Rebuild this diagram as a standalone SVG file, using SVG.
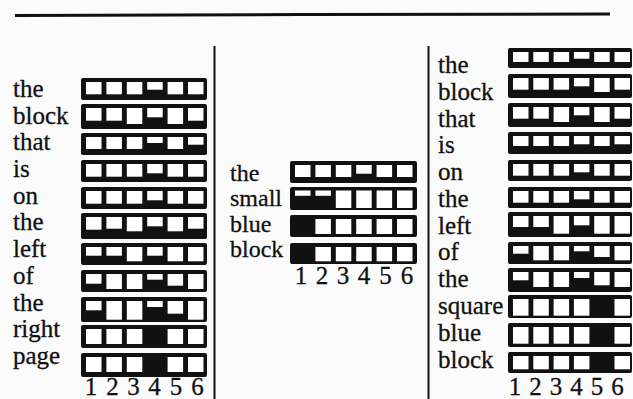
<svg xmlns="http://www.w3.org/2000/svg" width="633" height="399" viewBox="0 0 633 399">
<style>
.bx{fill:#111}
.c{fill:#fff}
.w{font-family:"Liberation Serif","Times New Roman",serif;font-size:25px;fill:#111;stroke:#111;stroke-width:0.3}
.m{font-size:24px}
.d{font-family:"Liberation Serif","Times New Roman",serif;font-size:25px;fill:#111;stroke:#111;stroke-width:0.3;text-anchor:middle}
.rule{stroke:#111;fill:none}
</style>
<rect width="633" height="399" fill="#fbfbfb"/>
<g id="rules">
<path class="rule" d="M15,15.5 L300,14.5 L610,14" stroke-width="3"/>
<line class="rule" x1="214.5" y1="46" x2="214.5" y2="399" stroke-width="2"/>
<line class="rule" x1="428.5" y1="46" x2="428.5" y2="399" stroke-width="2"/>
</g>
<g id="left-panel">
<g id="L1"><text class="w" x="13" y="97">the</text><rect class="bx" x="81" y="78" width="126" height="22" rx="2"/>
<rect class="c" x="86" y="82" width="15.5" height="12.3"/><rect class="c" x="106.4" y="82" width="15.5" height="12.3"/><rect class="c" x="126.8" y="82" width="15.5" height="12.3"/><rect class="c" x="147.2" y="82" width="15.5" height="7.7"/><rect class="c" x="167.6" y="82" width="15.5" height="12.3"/><rect class="c" x="188" y="82" width="15.5" height="12.3"/></g>
<g id="L2"><text class="w" x="13" y="124">block</text><rect class="bx" x="81" y="104" width="126" height="25" rx="2"/>
<rect class="c" x="86" y="108" width="15.5" height="12.7"/><rect class="c" x="106.4" y="108" width="15.5" height="12.7"/><rect class="c" x="126.8" y="108" width="15.5" height="16"/><rect class="c" x="147.2" y="108" width="15.5" height="9.3"/><rect class="c" x="167.6" y="108" width="15.5" height="16"/><rect class="c" x="188" y="108" width="15.5" height="12.7"/></g>
<g id="L3"><text class="w" x="13" y="150">that</text><rect class="bx" x="81" y="133" width="126" height="22" rx="2"/>
<rect class="c" x="86" y="137" width="15.5" height="12"/><rect class="c" x="106.4" y="137" width="15.5" height="12"/><rect class="c" x="126.8" y="137" width="15.5" height="12"/><rect class="c" x="147.2" y="137" width="15.5" height="6"/><rect class="c" x="167.6" y="137" width="15.5" height="12"/><rect class="c" x="188" y="137" width="15.5" height="7.7"/></g>
<g id="L4"><text class="w" x="13" y="177">is</text><rect class="bx" x="81" y="160" width="126" height="22" rx="2"/>
<rect class="c" x="86" y="164" width="15.5" height="12.7"/><rect class="c" x="106.4" y="164" width="15.5" height="12.7"/><rect class="c" x="126.8" y="164" width="15.5" height="12.7"/><rect class="c" x="147.2" y="164" width="15.5" height="9.3"/><rect class="c" x="167.6" y="164" width="15.5" height="12.7"/><rect class="c" x="188" y="164" width="15.5" height="12.7"/></g>
<g id="L5"><text class="w" x="13" y="204">on</text><rect class="bx" x="81" y="187" width="126" height="22" rx="2"/>
<rect class="c" x="86" y="191" width="15.5" height="12.7"/><rect class="c" x="106.4" y="191" width="15.5" height="12.7"/><rect class="c" x="126.8" y="191" width="15.5" height="12.7"/><rect class="c" x="147.2" y="191" width="15.5" height="9.3"/><rect class="c" x="167.6" y="191" width="15.5" height="12.7"/><rect class="c" x="188" y="191" width="15.5" height="12.7"/></g>
<g id="L6"><text class="w" x="13" y="230">the</text><rect class="bx" x="81" y="213" width="126" height="26" rx="2"/>
<rect class="c" x="86" y="217" width="15.5" height="12.7"/><rect class="c" x="106.4" y="217" width="15.5" height="11.7"/><rect class="c" x="126.8" y="217" width="15.5" height="14.3"/><rect class="c" x="147.2" y="217" width="15.5" height="9.3"/><rect class="c" x="167.6" y="217" width="15.5" height="14.3"/><rect class="c" x="188" y="217" width="15.5" height="11.7"/></g>
<g id="L7"><text class="w" x="13" y="257">left</text><rect class="bx" x="81" y="243" width="126" height="22" rx="2"/>
<rect class="c" x="86" y="247" width="15.5" height="8.7"/><rect class="c" x="106.4" y="247" width="15.5" height="8.7"/><rect class="c" x="126.8" y="247" width="15.5" height="14.3"/><rect class="c" x="147.2" y="247" width="15.5" height="8.7"/><rect class="c" x="167.6" y="247" width="15.5" height="14.3"/><rect class="c" x="188" y="247" width="15.5" height="14.3"/></g>
<g id="L8"><text class="w" x="13" y="284">of</text><rect class="bx" x="81" y="270" width="126" height="22" rx="2"/>
<rect class="c" x="86" y="274" width="15.5" height="9.7"/><rect class="c" x="106.4" y="274" width="15.5" height="15"/><rect class="c" x="126.8" y="274" width="15.5" height="15"/><rect class="c" x="147.2" y="274" width="15.5" height="5.7"/><rect class="c" x="167.6" y="274" width="15.5" height="11.7"/><rect class="c" x="188" y="274" width="15.5" height="15"/></g>
<g id="L9"><text class="w" x="13" y="311">the</text><rect class="bx" x="81" y="297" width="126" height="25" rx="2"/>
<rect class="c" x="86" y="301" width="15.5" height="9.3"/><rect class="c" x="106.4" y="301" width="15.5" height="18.7"/><rect class="c" x="126.8" y="301" width="15.5" height="18.7"/><rect class="c" x="147.2" y="301" width="15.5" height="6"/><rect class="c" x="167.6" y="301" width="15.5" height="12.7"/><rect class="c" x="188" y="301" width="15.5" height="18.7"/></g>
<g id="L10"><text class="w" x="13" y="337">right</text><rect class="bx" x="81" y="325" width="126" height="23" rx="2"/>
<rect class="c" x="86" y="329" width="15.5" height="15"/><rect class="c" x="106.4" y="329" width="15.5" height="15"/><rect class="c" x="126.8" y="329" width="15.5" height="15"/><rect class="c" x="167.6" y="329" width="15.5" height="15"/><rect class="c" x="188" y="329" width="15.5" height="15"/></g>
<g id="L11"><text class="w" x="13" y="364">page</text><rect class="bx" x="81" y="353" width="126" height="24" rx="2"/>
<rect class="c" x="86" y="357" width="15.5" height="15"/><rect class="c" x="106.4" y="357" width="15.5" height="15"/><rect class="c" x="126.8" y="357" width="15.5" height="15"/><rect class="c" x="167.6" y="357" width="15.5" height="15"/><rect class="c" x="188" y="357" width="15.5" height="15"/></g>
<g id="L-axis"><text class="d" x="91" y="395">1</text><text class="d" x="112.5" y="395">2</text><text class="d" x="133.5" y="395">3</text><text class="d" x="154.5" y="395">4</text><text class="d" x="176" y="395">5</text><text class="d" x="197.5" y="395">6</text></g>
</g>
<g id="middle-panel">
<g id="M1"><text class="w m" x="230" y="181">the</text><rect class="bx" x="290" y="161" width="127" height="22" rx="2"/>
<rect class="c" x="295" y="165" width="15.5" height="12"/><rect class="c" x="315.4" y="165" width="15.5" height="12"/><rect class="c" x="335.8" y="165" width="15.5" height="12"/><rect class="c" x="356.2" y="165" width="15.5" height="8.7"/><rect class="c" x="376.6" y="165" width="15.5" height="12"/><rect class="c" x="397" y="165" width="15.5" height="12"/></g>
<g id="M2"><text class="w m" x="230" y="206">small</text><rect class="bx" x="290" y="187" width="127" height="23" rx="2"/>
<rect class="c" x="295" y="190.5" width="15.5" height="5.3"/><rect class="c" x="315.4" y="190.5" width="15.5" height="5.3"/><rect class="c" x="335.8" y="190.5" width="15.5" height="17.5"/><rect class="c" x="356.2" y="190.5" width="15.5" height="17.5"/><rect class="c" x="376.6" y="190.5" width="15.5" height="17.5"/><rect class="c" x="397" y="190.5" width="15.5" height="17.5"/></g>
<g id="M3"><text class="w m" x="230" y="232">blue</text><rect class="bx" x="290" y="215" width="127" height="22" rx="2"/>
<rect class="c" x="315.4" y="219" width="15.5" height="15"/><rect class="c" x="335.8" y="219" width="15.5" height="15"/><rect class="c" x="356.2" y="219" width="15.5" height="15"/><rect class="c" x="376.6" y="219" width="15.5" height="15"/><rect class="c" x="397" y="219" width="15.5" height="15"/></g>
<g id="M4"><text class="w m" x="230" y="257">block</text><rect class="bx" x="290" y="243" width="127" height="21" rx="2"/>
<rect class="c" x="315.4" y="247" width="15.5" height="14.3"/><rect class="c" x="335.8" y="247" width="15.5" height="14.3"/><rect class="c" x="356.2" y="247" width="15.5" height="14.3"/><rect class="c" x="376.6" y="247" width="15.5" height="14.3"/><rect class="c" x="397" y="247" width="15.5" height="14.3"/></g>
<g id="M-axis"><text class="d" x="301" y="284">1</text><text class="d" x="322" y="284">2</text><text class="d" x="343" y="284">3</text><text class="d" x="364" y="284">4</text><text class="d" x="385.5" y="284">5</text><text class="d" x="407" y="284">6</text></g>
</g>
<g id="right-panel">
<g id="R1"><text class="w" x="438" y="73">the</text><rect class="bx" x="508" y="48" width="124" height="20" rx="2"/>
<rect class="c" x="513" y="52" width="15.5" height="10"/><rect class="c" x="533.3" y="52" width="15.5" height="10"/><rect class="c" x="553.6" y="52" width="15.5" height="10"/><rect class="c" x="573.9" y="52" width="15.5" height="6.7"/><rect class="c" x="594.2" y="52" width="15.5" height="10"/><rect class="c" x="614.5" y="52" width="15.5" height="10"/></g>
<g id="R2"><text class="w" x="438" y="100">block</text><rect class="bx" x="508" y="74" width="124" height="24" rx="2"/>
<rect class="c" x="513" y="78" width="15.5" height="11.7"/><rect class="c" x="533.3" y="78" width="15.5" height="11.7"/><rect class="c" x="553.6" y="78" width="15.5" height="11.7"/><rect class="c" x="573.9" y="78" width="15.5" height="8.3"/><rect class="c" x="594.2" y="78" width="15.5" height="14"/><rect class="c" x="614.5" y="78" width="15.5" height="11.7"/></g>
<g id="R3"><text class="w" x="438" y="127">that</text><rect class="bx" x="508" y="103" width="124" height="24" rx="2"/>
<rect class="c" x="513" y="107" width="15.5" height="11.7"/><rect class="c" x="533.3" y="107" width="15.5" height="11.7"/><rect class="c" x="553.6" y="107" width="15.5" height="15"/><rect class="c" x="573.9" y="107" width="15.5" height="8.3"/><rect class="c" x="594.2" y="107" width="15.5" height="15"/><rect class="c" x="614.5" y="107" width="15.5" height="11.7"/></g>
<g id="R4"><text class="w" x="438" y="153">is</text><rect class="bx" x="508" y="132" width="124" height="22" rx="2"/>
<rect class="c" x="513" y="136" width="15.5" height="10"/><rect class="c" x="533.3" y="136" width="15.5" height="10"/><rect class="c" x="553.6" y="136" width="15.5" height="10"/><rect class="c" x="573.9" y="136" width="15.5" height="8.3"/><rect class="c" x="594.2" y="136" width="15.5" height="10"/><rect class="c" x="614.5" y="136" width="15.5" height="8.3"/></g>
<g id="R5"><text class="w" x="438" y="180">on</text><rect class="bx" x="508" y="160" width="124" height="21" rx="2"/>
<rect class="c" x="513" y="164" width="15.5" height="11.7"/><rect class="c" x="533.3" y="164" width="15.5" height="11.7"/><rect class="c" x="553.6" y="164" width="15.5" height="11.7"/><rect class="c" x="573.9" y="164" width="15.5" height="8.3"/><rect class="c" x="594.2" y="164" width="15.5" height="11.7"/><rect class="c" x="614.5" y="164" width="15.5" height="11.7"/></g>
<g id="R6"><text class="w" x="438" y="207">the</text><rect class="bx" x="508" y="187" width="124" height="21" rx="2"/>
<rect class="c" x="513" y="191" width="15.5" height="11.7"/><rect class="c" x="533.3" y="191" width="15.5" height="11.7"/><rect class="c" x="553.6" y="191" width="15.5" height="11.7"/><rect class="c" x="573.9" y="191" width="15.5" height="8.3"/><rect class="c" x="594.2" y="191" width="15.5" height="11.7"/><rect class="c" x="614.5" y="191" width="15.5" height="11.7"/></g>
<g id="R7"><text class="w" x="438" y="234">left</text><rect class="bx" x="508" y="212" width="124" height="25" rx="2"/>
<rect class="c" x="513" y="216" width="15.5" height="11"/><rect class="c" x="533.3" y="216" width="15.5" height="11"/><rect class="c" x="553.6" y="216" width="15.5" height="17.7"/><rect class="c" x="573.9" y="216" width="15.5" height="9.3"/><rect class="c" x="594.2" y="216" width="15.5" height="17.7"/><rect class="c" x="614.5" y="216" width="15.5" height="17.7"/></g>
<g id="R8"><text class="w" x="438" y="260">of</text><rect class="bx" x="508" y="242" width="124" height="22" rx="2"/>
<rect class="c" x="513" y="246" width="15.5" height="7.7"/><rect class="c" x="533.3" y="246" width="15.5" height="14.3"/><rect class="c" x="553.6" y="246" width="15.5" height="14.3"/><rect class="c" x="573.9" y="246" width="15.5" height="5.3"/><rect class="c" x="594.2" y="246" width="15.5" height="11"/><rect class="c" x="614.5" y="246" width="15.5" height="14.3"/></g>
<g id="R9"><text class="w" x="438" y="287">the</text><rect class="bx" x="508" y="268" width="124" height="24" rx="2"/>
<rect class="c" x="513" y="272" width="15.5" height="8.3"/><rect class="c" x="533.3" y="272" width="15.5" height="15"/><rect class="c" x="553.6" y="272" width="15.5" height="15"/><rect class="c" x="573.9" y="272" width="15.5" height="6"/><rect class="c" x="594.2" y="272" width="15.5" height="13.3"/><rect class="c" x="614.5" y="272" width="15.5" height="15"/></g>
<g id="R10"><text class="w" x="438" y="314">square</text><rect class="bx" x="508" y="295" width="124" height="23" rx="2"/>
<rect class="c" x="513" y="299" width="15.5" height="16.7"/><rect class="c" x="533.3" y="299" width="15.5" height="16.7"/><rect class="c" x="553.6" y="299" width="15.5" height="16.7"/><rect class="c" x="573.9" y="299" width="15.5" height="16.7"/><rect class="c" x="614.5" y="299" width="15.5" height="16.7"/></g>
<g id="R11"><text class="w" x="438" y="341">blue</text><rect class="bx" x="508" y="323" width="124" height="24" rx="2"/>
<rect class="c" x="513" y="327" width="15.5" height="16.7"/><rect class="c" x="533.3" y="327" width="15.5" height="16.7"/><rect class="c" x="553.6" y="327" width="15.5" height="16.7"/><rect class="c" x="573.9" y="327" width="15.5" height="16.7"/><rect class="c" x="614.5" y="327" width="15.5" height="16.7"/></g>
<g id="R12"><text class="w" x="438" y="368">block</text><rect class="bx" x="508" y="352" width="124" height="21" rx="2"/>
<rect class="c" x="513" y="356" width="15.5" height="13.3"/><rect class="c" x="533.3" y="356" width="15.5" height="13.3"/><rect class="c" x="553.6" y="356" width="15.5" height="13.3"/><rect class="c" x="573.9" y="356" width="15.5" height="13.3"/><rect class="c" x="614.5" y="356" width="15.5" height="13.3"/></g>
<g id="R-axis"><text class="d" x="515" y="395">1</text><text class="d" x="535.5" y="395">2</text><text class="d" x="556" y="395">3</text><text class="d" x="576.5" y="395">4</text><text class="d" x="597" y="395">5</text><text class="d" x="617.5" y="395">6</text></g>
</g>
</svg>
